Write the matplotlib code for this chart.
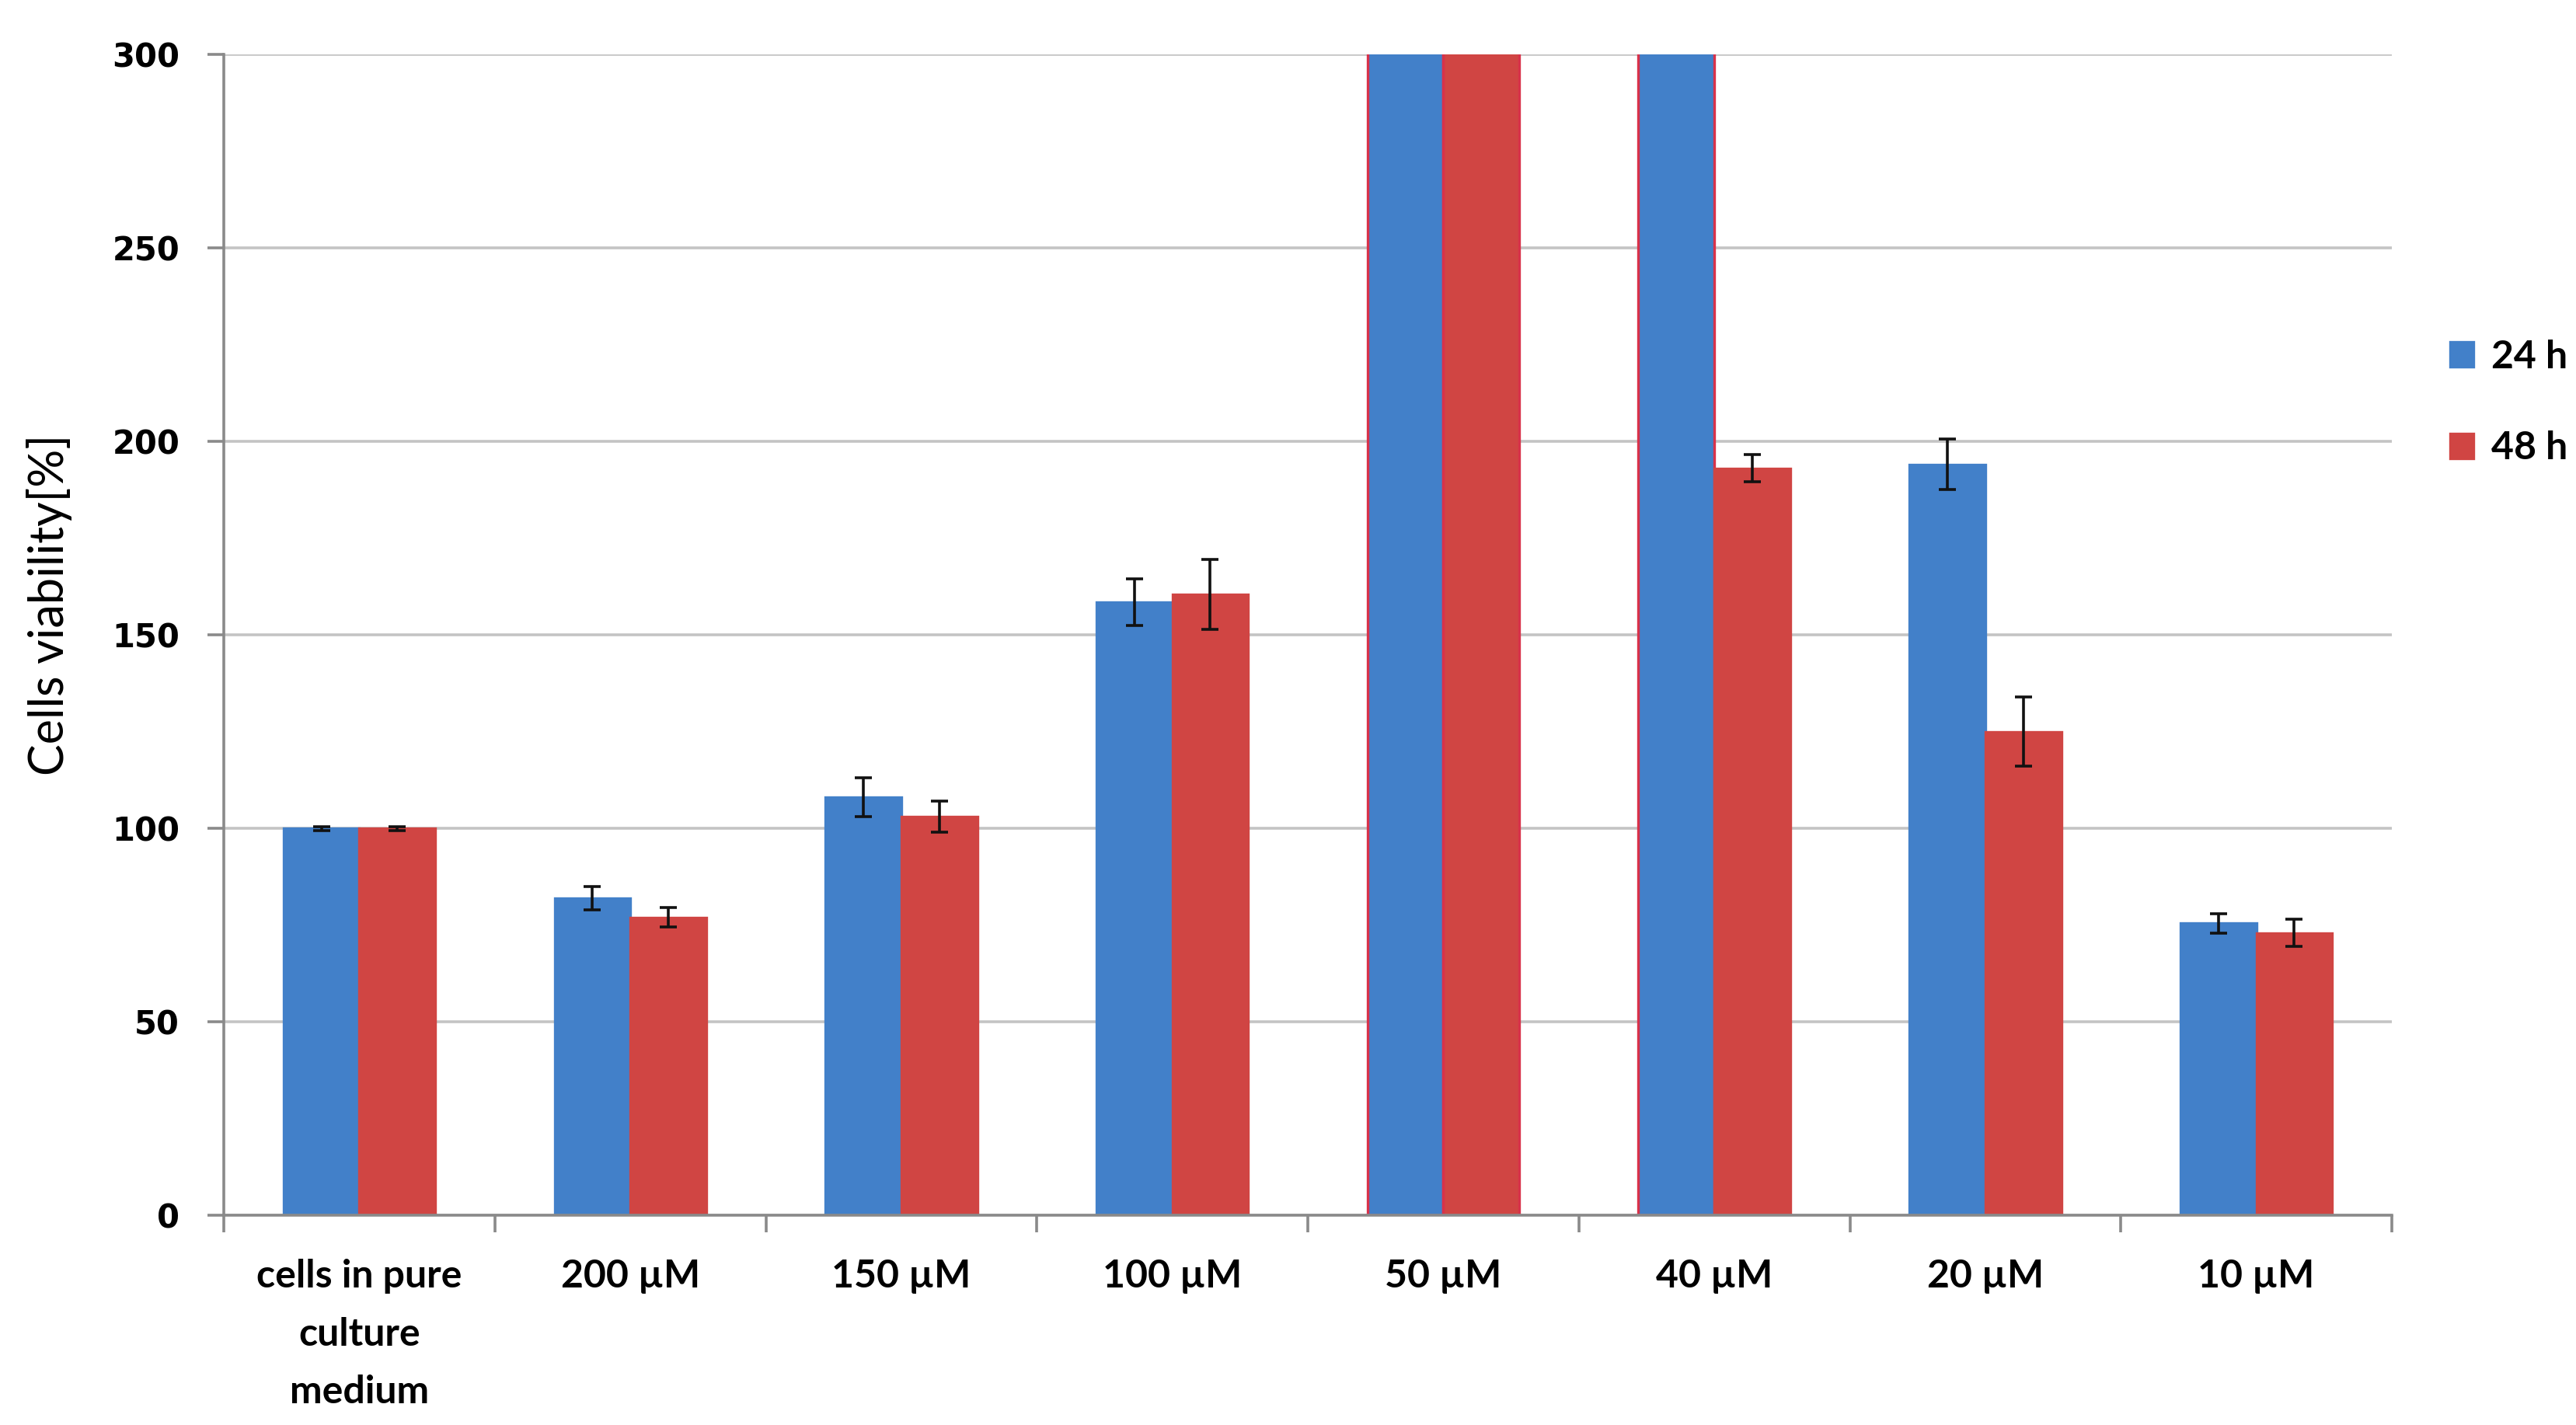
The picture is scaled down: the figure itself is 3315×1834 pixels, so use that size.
import matplotlib.pyplot as plt
import numpy as np

# Data
categories = ['cells in pure\nculture\nmedium', '200 µM', '150 µM', '100 µM',
              '50 µM', '40 µM', '20 µM', '10 µM']
viability_24h = [100, 82, 108, 158.5, 320, 320, 194, 75.5]
viability_48h = [100, 77, 103, 160.5, 320, 193, 125, 73]
err_24h = [0.5, 3, 5, 6, 0, 0, 6.5, 2.5]
err_48h = [0.5, 2.5, 4, 9, 0, 3.5, 9, 3.5]
yticks = [0, 50, 100, 150, 200, 250, 300]

blue = '#4280c9'
red = '#d04543'
bar_width = 0.28

ind = np.arange(len(categories))

fig = plt.figure(figsize=(16.575, 9.17), dpi=200)
ax = fig.add_axes([0.0869, 0.147, 0.8416, 0.815])

# bars that overshoot the axis get the thin pink outline seen in the original
edges_24 = ['#d8324a' if v > 300 else blue for v in viability_24h]
edges_48 = ['#d8324a' if v > 300 else red for v in viability_48h]

ax.bar(ind - bar_width / 2, viability_24h, width=bar_width, color=blue,
       edgecolor=edges_24, linewidth=1.2, label='24 h', zorder=2)
ax.bar(ind + bar_width / 2, viability_48h, width=bar_width, color=red,
       edgecolor=edges_48, linewidth=1.2, label='48 h', zorder=2)

ax.errorbar(ind - bar_width / 2, viability_24h, yerr=err_24h, fmt='none',
            ecolor='#111111', elinewidth=1.3, capsize=4, capthick=1.3, zorder=3)
ax.errorbar(ind + bar_width / 2, viability_48h, yerr=err_48h, fmt='none',
            ecolor='#111111', elinewidth=1.3, capsize=4, capthick=1.3, zorder=3)

ax.set_xlim(-0.5, len(categories) - 0.5)
ax.set_ylim(0, 300)

# axis styling
ax.set_yticks(yticks)
ax.set_yticklabels([str(t) for t in yticks], fontweight='bold', fontsize=15,
                   family='DejaVu Sans')
ax.yaxis.grid(True, color='#c4c4c4', linewidth=1.3, zorder=0)
ax.set_axisbelow(True)

ax.set_xticks(np.arange(-0.5, len(categories), 1.0))
ax.set_xticklabels([])
ax.set_xticks(ind, minor=True)
ax.set_xticklabels(categories, minor=True, fontweight='bold', fontsize=18,
                   family='Lato', linespacing=1.8, va='top')
ax.tick_params(axis='x', which='minor', length=0, pad=20)
ax.tick_params(axis='x', which='major', length=8, color='#8a8a8a', width=1.3)
ax.tick_params(axis='y', length=7.5, color='#8a8a8a', width=1.3, pad=13)

for side in ['top', 'right']:
    ax.spines[side].set_visible(False)
for side in ['left', 'bottom']:
    ax.spines[side].set_color('#8a8a8a')
    ax.spines[side].set_linewidth(1.3)

ax.set_ylabel('Cells viability[%]', fontsize=22, family='Lato')
ax.yaxis.set_label_coords(-0.070, 0.526)

ax.legend(loc='center left', bbox_to_anchor=(1.027, 0.70), frameon=False,
          prop={'family': 'Lato', 'weight': 'bold', 'size': 18},
          handlelength=0.6, handleheight=0.6, handletextpad=0.45,
          labelspacing=1.45, borderaxespad=0, borderpad=0)

fig.savefig('out.png', dpi=200)
